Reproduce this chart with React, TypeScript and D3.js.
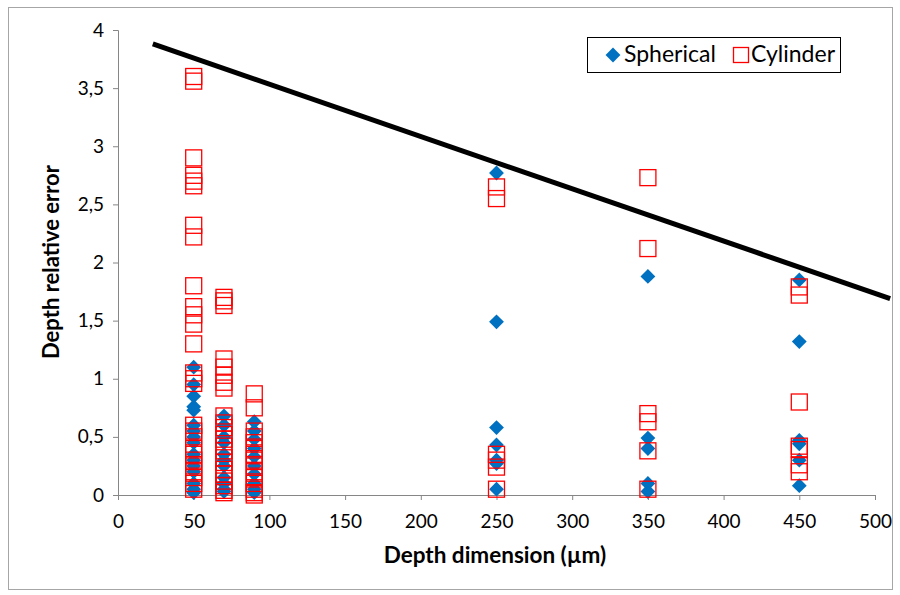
import React, { useEffect, useRef } from 'react';
import * as d3 from 'd3';

// depth dimension (µm) and relative error
const sphericalX = [
  50, 50, 50, 50, 50, 50, 50, 50, 50, 50, 50, 50, 50, 50, 50, 50,
  70, 70, 70, 70, 70, 70, 70, 70, 70, 70, 70,
  90, 90, 90, 90, 90, 90, 90, 90, 90, 90,
  250, 250, 250, 250, 250, 250, 250,
  350, 350, 350, 350, 350,
  450, 450, 450, 450, 450, 450,
];
const sphericalY = [
  1.1, 0.95, 0.85, 0.76, 0.73, 0.6, 0.55, 0.5, 0.45, 0.35, 0.3, 0.25, 0.2, 0.1, 0.05, 0.02,
  0.68, 0.6, 0.5, 0.45, 0.35, 0.3, 0.25, 0.15, 0.1, 0.05, 0.03,
  0.63, 0.55, 0.48, 0.4, 0.33, 0.25, 0.18, 0.1, 0.05, 0.02,
  2.77, 1.49, 0.58, 0.43, 0.3, 0.27, 0.05,
  1.88, 0.49, 0.4, 0.1, 0.03,
  1.85, 1.32, 0.47, 0.44, 0.3, 0.08,
];

const cylinderX = [
  50, 50, 50, 50, 50, 50, 50, 50, 50, 50, 50, 50, 50, 50, 50, 50,
  50, 50, 50, 50, 50, 50, 50, 50, 50, 50, 50,
  70, 70, 70, 70, 70, 70, 70, 70, 70, 70, 70, 70, 70, 70, 70, 70, 70, 70, 70, 70, 70, 70, 70,
  90, 90, 90, 90, 90, 90, 90, 90, 90, 90, 90, 90, 90, 90, 90,
  250, 250, 250, 250, 250, 250,
  350, 350, 350, 350, 350, 350,
  450, 450, 450, 450, 450, 450, 450,
];
const cylinderY = [
  3.6, 3.56, 2.9, 2.75, 2.7, 2.66, 2.32, 2.22, 1.8, 1.62, 1.55, 1.47, 1.3, 1.05, 1.0, 0.96,
  0.6, 0.55, 0.5, 0.4, 0.35, 0.3, 0.25, 0.2, 0.15, 0.1, 0.05,
  1.7, 1.67, 1.63, 1.17, 1.1, 1.03, 0.97, 0.92,
  0.68, 0.62, 0.58, 0.52, 0.48, 0.42, 0.38, 0.32, 0.28, 0.22, 0.18, 0.12, 0.08, 0.04, 0.02,
  0.87, 0.75, 0.55, 0.5, 0.45, 0.4, 0.35, 0.3, 0.25, 0.2, 0.15, 0.1, 0.05, 0.02, 0.0,
  2.65, 2.55, 0.35, 0.3, 0.24, 0.05,
  2.73, 2.12, 0.7, 0.63, 0.38, 0.05,
  1.79, 1.72, 0.8, 0.42, 0.39, 0.26, 0.2,
];

// trend line end points
const lineX = [23, 510];
const lineY = [3.88, 1.69];

const xTicks = [0, 50, 100, 150, 200, 250, 300, 350, 400, 450, 500];
const yTicks = [0, 0.5, 1, 1.5, 2, 2.5, 3, 3.5, 4];
const seriesNames = ['Spherical', 'Cylinder'];

const FONT = 'Lato, "Open Sans", sans-serif';
const BLUE = '#0070C0';
const RED = '#FF0000';

const App = () => {
  const ref = useRef<SVGSVGElement>(null);

  useEffect(() => {
    const svg = d3.select(ref.current);
    svg.selectAll('*').remove();

    svg.append('rect')
      .attr('x', 8.5).attr('y', 7.5)
      .attr('width', 884).attr('height', 582)
      .attr('fill', 'white')
      .attr('stroke', '#a6a6a6');

    const x = d3.scaleLinear().domain([0, 500]).range([118, 875]);
    const y = d3.scaleLinear().domain([0, 4]).range([495, 30]);

    // y axis
    const yAxis = svg.append('g')
      .attr('transform', `translate(${x(0)},0)`)
      .call(d3.axisLeft(y).tickValues(yTicks).tickSize(5).tickPadding(9)
        .tickFormat(d => String(d).replace('.', ',')));
    yAxis.select('.domain').attr('stroke', '#868686');
    yAxis.selectAll('line').attr('stroke', '#868686');
    yAxis.selectAll('text')
      .attr('font-family', FONT).attr('font-size', 19).attr('fill', '#000');

    // x axis
    const xAxis = svg.append('g')
      .attr('transform', `translate(0,${y(0)})`)
      .call(d3.axisBottom(x).tickValues(xTicks).tickSize(5).tickPadding(15));
    xAxis.select('.domain').attr('stroke', '#868686');
    xAxis.selectAll('line').attr('stroke', '#868686');
    xAxis.selectAll('text')
      .attr('font-family', FONT).attr('font-size', 19).attr('fill', '#000');

    // axis titles
    svg.append('text')
      .attr('x', 495).attr('y', 563)
      .attr('text-anchor', 'middle')
      .attr('font-family', FONT).attr('font-size', 22.5).attr('font-weight', 'bold')
      .text('Depth dimension (µm)');

    svg.append('text')
      .attr('transform', 'translate(59,262) rotate(-90)')
      .attr('text-anchor', 'middle')
      .attr('font-family', FONT).attr('font-size', 22).attr('font-weight', 'bold')
      .text('Depth relative error');

    const diamond = d3.symbol().type(d3.symbolDiamond2).size(140);

    // Spherical diamonds
    svg.append('g')
      .selectAll('path')
      .data(sphericalX.map((d, i) => [d, sphericalY[i]]))
      .enter()
      .append('path')
      .attr('d', diamond)
      .attr('transform', d => `translate(${x(d[0])},${y(d[1])})`)
      .attr('fill', BLUE);

    // Cylinder squares
    const s = 16;
    svg.append('g')
      .selectAll('rect')
      .data(cylinderX.map((d, i) => [d, cylinderY[i]]))
      .enter()
      .append('rect')
      .attr('x', d => x(d[0]) - s / 2)
      .attr('y', d => y(d[1]) - s / 2)
      .attr('width', s).attr('height', s)
      .attr('fill', 'none')
      .attr('stroke', RED)
      .attr('stroke-width', 1.3);

    // trend line
    const line = d3.line<number>()
      .x(d => x(lineX[d]))
      .y(d => y(lineY[d]));
    svg.append('path')
      .attr('d', line([0, 1]))
      .attr('fill', 'none')
      .attr('stroke', '#000')
      .attr('stroke-width', 5);

    // legend
    const legend = svg.append('g');
    legend.append('rect')
      .attr('x', 587.5).attr('y', 37.5)
      .attr('width', 253).attr('height', 35)
      .attr('fill', 'white').attr('stroke', '#000');
    legend.append('path')
      .attr('d', diamond)
      .attr('transform', 'translate(613,55)')
      .attr('fill', BLUE);
    legend.append('rect')
      .attr('x', 733.5).attr('y', 47.5)
      .attr('width', 15).attr('height', 15)
      .attr('fill', 'none').attr('stroke', RED).attr('stroke-width', 1.3);
    legend.selectAll('text.lbl')
      .data(seriesNames)
      .enter()
      .append('text')
      .attr('class', 'lbl')
      .attr('x', (d, i) => (i === 0 ? 624 : 751))
      .attr('y', 62)
      .attr('font-family', FONT).attr('font-size', 23)
      .text(d => d);
  }, []);

  return (
    <svg ref={ref} width={900} height={595}
      style={{ position: 'absolute', left: 0, top: 0, background: 'white' }} />
  );
};

export default App;
